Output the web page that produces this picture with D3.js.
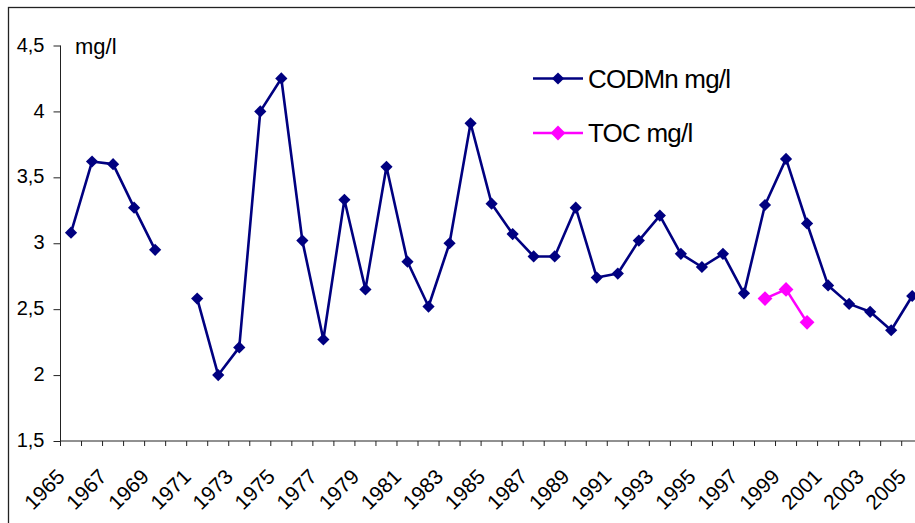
<!DOCTYPE html>
<html>
<head>
<meta charset="utf-8">
<script src="https://cdn.jsdelivr.net/npm/d3@7/dist/d3.min.js"></script>
<style>
  html, body { margin: 0; padding: 0; background: #fff; overflow: hidden; }
  svg { display: block; font-family: "Liberation Sans", Arial, sans-serif; }
</style>
</head>
<body>
<svg id="chart" width="915" height="523"></svg>
<script>
// Annual means, mg/l
const years = d3.range(1965, 2006);
const codMn = [
  3.08, 3.62, 3.60, 3.27, 2.95, null, 2.58, 2.00, 2.21, 4.00,
  4.25, 3.02, 2.27, 3.33, 2.65, 3.58, 2.86, 2.52, 3.00, 3.91,
  3.30, 3.07, 2.90, 2.90, 3.27, 2.74, 2.77, 3.02, 3.21, 2.92,
  2.82, 2.92, 2.62, 3.29, 3.64, 3.15, 2.68, 2.54, 2.48, 2.34,
  2.60
];
const tocYears = [1998, 1999, 2000];
const toc = [2.58, 2.65, 2.40];
const yTicks = [1.5, 2, 2.5, 3, 3.5, 4, 4.5];
const seriesNames = ["CODMn mg/l", "TOC mg/l"];

const svg = d3.select("#chart");
const plotLeft = 60.5, plotBottom = 441, plotTop = 45.5;
const catW = 21.03;

const x = d3.scaleBand()
  .domain(years)
  .range([plotLeft, plotLeft + years.length * catW]);
const y = d3.scaleLinear().domain([1.5, 4.5]).range([plotBottom, plotTop]);
const cx = yr => x(yr) + x.bandwidth() / 2;

// outer chart frame
svg.append("rect")
  .attr("x", 8.5).attr("y", 7.5)
  .attr("width", 1200).attr("height", 1000)
  .attr("fill", "none").attr("stroke", "#222").attr("stroke-width", 1.3);

// y axis
const yAxis = svg.append("g").attr("transform", `translate(${plotLeft},0)`)
  .call(d3.axisLeft(y).tickValues(yTicks).tickSize(7).tickPadding(9)
    .tickFormat(d => d3.format(".1~f")(d).replace(".", ",")));
yAxis.select(".domain").attr("stroke", "#222").attr("d", `M0,${plotBottom}V${plotTop}`);
yAxis.selectAll(".tick line").attr("stroke", "#222");
yAxis.selectAll(".tick text")
  .attr("font-size", 20).attr("fill", "#000").attr("dy", "0.28em")
  .attr("font-family", "Liberation Sans, Arial, sans-serif");

// x axis: ticks on category boundaries
const boundaries = d3.range(years.length + 1).map(i => plotLeft + i * catW);
const xg = svg.append("g");
xg.append("line")
  .attr("x1", plotLeft).attr("x2", plotLeft + years.length * catW)
  .attr("y1", plotBottom).attr("y2", plotBottom)
  .attr("stroke", "#222");
xg.selectAll("line.tk").data(boundaries).join("line")
  .attr("class", "tk")
  .attr("x1", d => d).attr("x2", d => d)
  .attr("y1", plotBottom).attr("y2", plotBottom + 5)
  .attr("stroke", "#222");
xg.selectAll("text").data(years.filter((d, i) => i % 2 === 0)).join("text")
  .attr("text-anchor", "end")
  .attr("font-size", 21)
  .attr("transform", d => `translate(${cx(d) - 5},${plotBottom + 37}) rotate(-45)`)
  .text(d => d);

// unit label
svg.append("text").attr("x", 75).attr("y", 54)
  .attr("font-size", 22).text("mg/l");

// series
const diamond = d3.symbol().type(d3.symbolDiamond2);
const codData = years.map((yr, i) => ({ yr, v: codMn[i] }));
const tocData = tocYears.map((yr, i) => ({ yr, v: toc[i] }));
const line = d3.line().defined(d => d.v != null).x(d => cx(d.yr)).y(d => y(d.v));

function drawSeries(data, color, size) {
  svg.append("path").datum(data)
    .attr("d", line).attr("fill", "none")
    .attr("stroke", color).attr("stroke-width", 2.6)
    .attr("stroke-linejoin", "round");
  svg.append("g").selectAll("path").data(data.filter(d => d.v != null)).join("path")
    .attr("d", diamond.size(size))
    .attr("transform", d => `translate(${cx(d.yr)},${y(d.v)})`)
    .attr("fill", color);
}
drawSeries(codData, "#000080", 95);
drawSeries(tocData, "#FF00FF", 140);

// legend
const legend = svg.append("g");
[["#000080", 95, 78.5], ["#FF00FF", 140, 133]].forEach(([c, s, ly], i) => {
  legend.append("line").attr("x1", 533).attr("x2", 583)
    .attr("y1", ly).attr("y2", ly).attr("stroke", c).attr("stroke-width", 2.6);
  legend.append("path").attr("d", diamond.size(s))
    .attr("transform", `translate(558,${ly})`).attr("fill", c);
  legend.append("text").attr("x", 588).attr("y", ly + 9)
    .attr("font-size", 26).attr("letter-spacing", -0.8).text(seriesNames[i]);
});
</script>
</body>
</html>
